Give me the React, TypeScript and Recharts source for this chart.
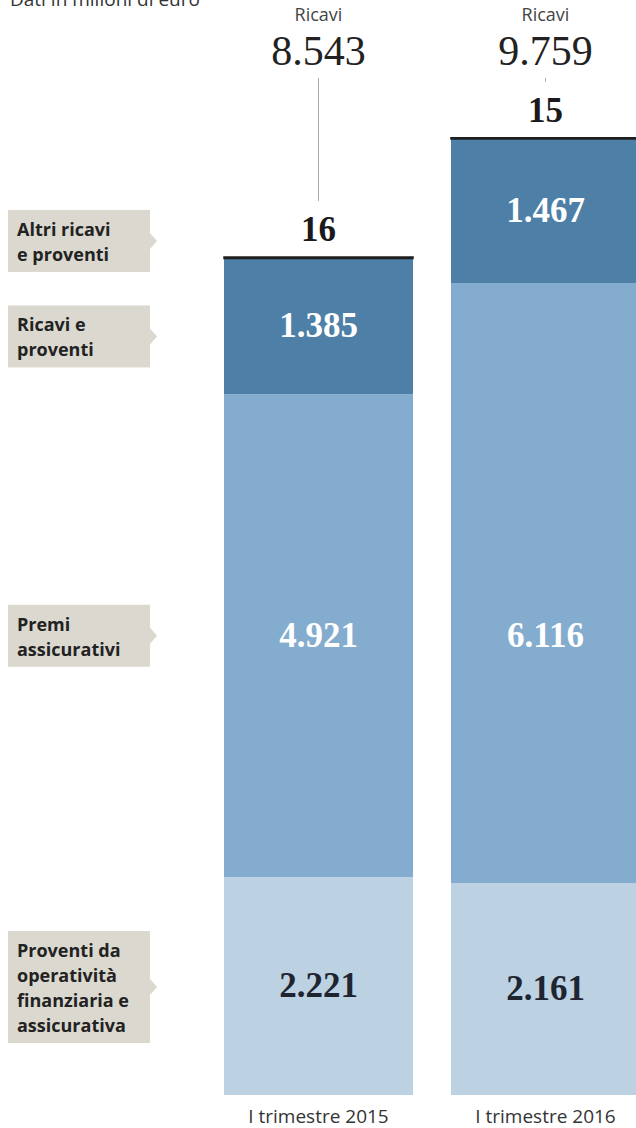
import React from "react";
import { BarChart, Bar, XAxis, YAxis, LabelList } from "recharts";

const categories = ["I trimestre 2015", "I trimestre 2016"];
const proventiFinanziari = [2221, 2161];
const premiAssicurativi = [4921, 6116];
const ricaviProventi = [1385, 1467];
const altriRicavi = [16, 15];

const proventiLabel = ["Proventi da", "operatività", "finanziaria e", "assicurativa"];
const premiLabel = ["Premi", "assicurativi"];
const ricaviLabel = ["Ricavi e", "proventi"];
const altriLabel = ["Altri ricavi", "e proventi"];
const totalLabel = "Ricavi";
const title = "Dati in milioni di euro";

const data = categories.map((cat, i) => ({
  cat,
  fin: proventiFinanziari[i],
  premi: premiAssicurativi[i],
  ricavi: ricaviProventi[i],
  altri: altriRicavi[i],
  total: proventiFinanziari[i] + premiAssicurativi[i] + ricaviProventi[i] + altriRicavi[i],
}));

const SERIF = "'Liberation Serif', 'DejaVu Serif', serif";
const SANS = "'Open Sans', 'Noto Sans', sans-serif";

const fmt = (n: number) => String(n).replace(/\B(?=(\d{3})+(?!\d))/g, ".");

function SideBox({ cy, lines }: { cy: number; lines: string[] }) {
  const h = 25 * lines.length + 12;
  const top = cy - h / 2;
  return (
    <g>
      <rect x={8} y={top} width={142} height={h} fill="#dbd8d0" />
      <polygon points={`150,${cy - 8} 157,${cy} 150,${cy + 8}`} fill="#dbd8d0" />
      {lines.map((l, i) => (
        <text key={i} x={17} y={top + 26 + i * 25} fontFamily={SANS} fontWeight={700} fontSize={18} fill="#222">
          {l}
        </text>
      ))}
    </g>
  );
}

// premi labels sit in the middle of the value band shared by both bars
const premiLow = Math.max(...proventiFinanziari);
const premiHigh = Math.min(...proventiFinanziari.map((v, i) => v + premiAssicurativi[i]));

const segmentLabel = (lines: string[], color: string, boxShift: number, shared = false) => (props: any) => {
  const { x, y, width, height, value, index } = props;
  const cx = x + width / 2;
  let cy = y + height / 2;
  if (shared) {
    const mid = (premiLow + premiHigh) / 2;
    cy = y + height - ((mid - proventiFinanziari[index]) * height) / value;
  }
  return (
    <g>
      <text x={cx} y={cy + 11} textAnchor="middle" fontFamily={SERIF} fontWeight={700} fontSize={35} fill={color}>
        {fmt(value)}
      </text>
      {index === 0 && <SideBox cy={cy + boxShift} lines={lines} />}
    </g>
  );
};

const topLabel = (props: any) => {
  const { x, y, width, value, index } = props;
  const cx = x + width / 2;
  const base = y - 16;
  return (
    <g>
      <text x={cx} y={21} textAnchor="middle" fontFamily={SANS} fontSize={18} fill="#444">
        {totalLabel}
      </text>
      <text x={cx} y={65} textAnchor="middle" fontFamily={SERIF} fontSize={42} fill="#222">
        {fmt(data[index].total)}
      </text>
      <line x1={cx} x2={cx} y1={78} y2={base - 40} stroke="#aaa" strokeWidth={1} />
      <text x={cx} y={base} textAnchor="middle" fontFamily={SERIF} fontWeight={700} fontSize={35} fill="#1a1a1a">
        {fmt(value)}
      </text>
      {index === 0 && <SideBox cy={base} lines={altriLabel} />}
    </g>
  );
};

const renderTick = (props: any) => {
  const { x, y, payload } = props;
  return (
    <text x={x} y={y + 20} textAnchor="middle" fontFamily={SANS} fontSize={19} fill="#333">
      {payload.value}
    </text>
  );
};

export default function App() {
  return (
    <div style={{ position: "absolute", left: 0, top: 0, width: 636, height: 1128, overflow: "hidden", background: "#fff" }}>
      <div style={{ position: "absolute", left: 10, top: -14, fontFamily: SANS, fontSize: 19, color: "#333", whiteSpace: "nowrap" }}>
        {title}
      </div>
      <BarChart width={660} height={1128} data={data} margin={{ top: 114, right: 1, bottom: 0, left: 205 }} barSize={189}>
        <XAxis dataKey="cat" axisLine={false} tickLine={false} height={33} tick={renderTick} interval={0} />
        <YAxis hide domain={[0, 10000]} />
        <Bar dataKey="fin" stackId="a" fill="#bcd1e2" isAnimationActive={false}>
          <LabelList dataKey="fin" content={segmentLabel(proventiLabel, "#1f2530", 1)} />
        </Bar>
        <Bar dataKey="premi" stackId="a" fill="#84acce" isAnimationActive={false}>
          <LabelList dataKey="premi" content={segmentLabel(premiLabel, "#ffffff", 0, true)} />
        </Bar>
        <Bar dataKey="ricavi" stackId="a" fill="#4e7fa7" isAnimationActive={false}>
          <LabelList dataKey="ricavi" content={segmentLabel(ricaviLabel, "#ffffff", 10)} />
        </Bar>
        <Bar dataKey="altri" stackId="a" fill="#1f1f1f" stroke="#1f1f1f" strokeWidth={1.5} isAnimationActive={false}>
          <LabelList dataKey="altri" content={topLabel} />
        </Bar>
      </BarChart>
    </div>
  );
}
